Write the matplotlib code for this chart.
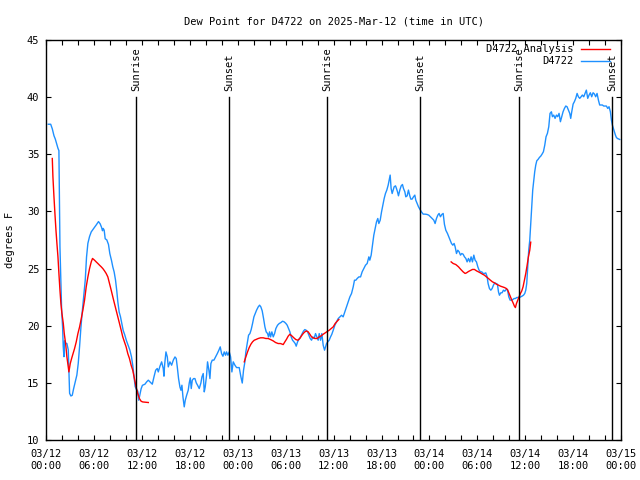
import matplotlib
matplotlib.use('Agg')
import matplotlib.pyplot as plt
from matplotlib.ticker import MultipleLocator

# ---------------- data ----------------
title = "Dew Point for D4722 on 2025-Mar-12 (time in UTC)"
ylabel = "degrees F"

blue_hours = [0.25, 0.55, 0.75, 0.96, 1.13, 1.30, 1.46, 1.58, 1.62, 1.71, 1.83, 1.92, 2.04, 2.12, 2.21, 2.29,
              2.46, 2.58, 2.75, 2.83, 2.92, 3.08, 3.25, 3.42, 3.63, 3.83, 4.0, 4.17, 4.33, 4.5, 4.71, 4.88,
              5.04, 5.21, 5.42, 5.63, 5.83, 6.04, 6.25, 6.54, 6.75, 6.92, 7.04, 7.13, 7.25, 7.38, 7.58, 7.79,
              7.96, 8.17, 8.33, 8.5, 8.67, 8.83, 8.96, 9.13, 9.29, 9.46, 9.63, 9.83, 10.04, 10.25, 10.46, 10.67,
              10.83, 11.0, 11.13, 11.29, 11.46, 11.58, 11.71, 11.88, 12.04, 12.36, 12.57, 12.78, 12.99, 13.28,
              13.49, 13.7, 13.9, 14.03, 14.24, 14.45, 14.65, 14.74, 14.82, 14.99, 15.16, 15.28, 15.49, 15.7,
              15.91, 16.12, 16.28, 16.41, 16.57, 16.74, 16.87, 16.99, 17.12, 17.28, 17.41, 17.58, 17.78, 17.91,
              18.04, 18.16, 18.29, 18.45, 18.62, 18.79, 18.95, 19.16, 19.37, 19.5, 19.66, 19.79, 19.91, 20.08,
              20.2, 20.37, 20.5, 20.62, 20.79, 21.0, 21.21, 21.42, 21.62, 21.79, 21.96, 22.13, 22.29, 22.46,
              22.58, 22.75, 22.92, 23.09, 23.25, 23.42, 23.63, 23.84, 24.17, 24.38, 24.55, 24.71, 24.88, 25.0,
              25.17, 25.34, 25.51, 25.67, 25.84, 26.01, 26.18, 26.34, 26.55, 26.72, 26.88, 27.05, 27.22, 27.39,
              27.55, 27.72, 27.84, 27.97, 28.1, 28.26, 28.43, 28.6, 28.76, 28.97, 29.18, 29.39, 29.6, 29.81,
              30.02, 30.18, 30.35, 30.52, 30.68, 30.85, 31.02, 31.18, 31.31, 31.48, 31.64, 31.85, 32.06, 32.23,
              32.39, 32.56, 32.73, 32.9, 33.06, 33.23, 33.39, 33.56, 33.73, 33.9, 34.06, 34.19, 34.36, 34.52,
              34.69, 34.86, 34.98, 35.11, 35.27, 35.44, 35.61, 35.77, 35.94, 36.15, 36.36, 36.57, 36.78, 36.99,
              37.19, 37.4, 37.61, 37.82, 38.03, 38.24, 38.45, 38.61, 38.78, 38.95, 39.16, 39.37, 39.57, 39.78,
              39.99, 40.2, 40.41, 40.53, 40.7, 40.87, 41.03, 41.2, 41.37, 41.53, 41.66, 41.83, 42.0, 42.16,
              42.33, 42.49, 42.66, 42.83, 42.95, 43.08, 43.2, 43.33, 43.46, 43.58, 43.75, 43.87, 44.0, 44.12,
              44.29, 44.46, 44.62, 44.75, 44.92, 45.04, 45.21, 45.37, 45.54, 45.67, 45.83, 46.0, 46.17, 46.29,
              46.46, 46.63, 46.79, 47.0, 47.21, 47.46, 47.71, 47.92, 48.13, 48.34, 48.55, 48.71, 48.88, 49.05,
              49.21, 49.38, 49.55, 49.72, 49.88, 50.05, 50.26, 50.43, 50.59, 50.76, 50.93, 51.09, 51.22, 51.39,
              51.55, 51.72, 51.89, 52.05, 52.22, 52.39, 52.56, 52.72, 52.89, 53.06, 53.22, 53.39, 53.56, 53.72,
              53.89, 54.06, 54.22, 54.39, 54.56, 54.73, 54.89, 55.06, 55.23, 55.35, 55.52, 55.69, 55.85, 56.02,
              56.19, 56.35, 56.52, 56.65, 56.77, 56.94, 57.1, 57.27, 57.44, 57.61, 57.77, 57.94, 58.11, 58.27,
              58.44, 58.61, 58.77, 58.94, 59.11, 59.28, 59.44, 59.61, 59.78, 59.94, 60.07, 60.19, 60.32, 60.44,
              60.57, 60.69, 60.82, 60.94, 61.07, 61.19, 61.32, 61.45, 61.61, 61.78, 61.95, 62.11, 62.28, 62.45,
              62.61, 62.78, 62.95, 63.11, 63.28, 63.41, 63.57, 63.74, 63.91, 64.07, 64.24, 64.41, 64.58, 64.74,
              64.91, 65.08, 65.24, 65.41, 65.58, 65.7, 65.83, 66.0, 66.16, 66.33, 66.5, 66.66, 66.83, 67.0,
              67.16, 67.33, 67.5, 67.66, 67.83, 68.0, 68.16, 68.33, 68.5, 68.67, 68.83, 69.0, 69.17, 69.33,
              69.5, 69.67, 69.83, 70.0, 70.17, 70.34, 70.5, 70.67, 70.8, 70.92, 71.04, 71.17, 71.3, 71.42,
              71.55, 71.84]
blue_dewpt = [37.6, 37.6, 37.2, 36.6, 36.3, 35.9, 35.5, 35.3, 32.6, 26.9, 23.7, 21.4, 19.9, 18.2, 17.3, 18.7,
              18.45, 18.45, 17.9, 16.1, 14.1, 13.87, 13.93, 14.5, 15.1, 15.7, 16.7, 18.2, 19.8, 21.2, 22.8, 24.0,
              26.0, 27.2, 27.8, 28.2, 28.4, 28.6, 28.8, 29.1, 28.9, 28.6, 28.3, 28.5, 28.35, 27.6, 27.5, 27.1,
              26.3, 25.7, 25.15, 24.7, 24.0, 23.05, 22.1, 21.2, 20.8, 20.2, 19.6, 19.2, 18.7, 18.3, 17.9, 17.3,
              16.55, 15.5, 14.7, 14.43, 14.3, 13.5, 13.93, 14.5, 14.8, 14.9, 15.1, 15.25, 15.1, 14.9,
              15.54, 16.12, 16.27, 15.97, 16.47, 16.85, 16.27, 15.6, 16.56, 17.72, 17.28, 16.41, 16.85, 16.56,
              17.0, 17.28, 17.14, 16.41, 15.39, 14.66, 14.37, 14.81, 13.79, 12.92, 13.5, 13.93, 14.37, 15.01,
              15.45, 14.52, 15.25, 15.39, 15.39, 15.01, 14.81, 14.52, 15.01, 15.54, 15.83, 14.23, 14.66, 15.68,
              16.85, 16.12, 15.39, 16.7, 17.0, 17.0, 17.28, 17.57, 17.87, 18.16, 17.57, 17.34, 17.72, 17.43,
              17.72, 17.43, 17.72, 17.28, 15.97, 16.85, 16.56, 16.35, 16.35, 15.54, 15.0, 16.12, 16.85, 17.72,
              18.45, 19.18, 19.32, 19.67, 20.2, 20.78, 21.07, 21.36, 21.65, 21.8, 21.65, 21.3, 20.63, 19.9,
              19.47, 19.32, 19.03, 19.47, 19.03, 19.47, 19.03, 19.32, 19.76, 20.05, 20.2, 20.28, 20.4, 20.34,
              20.2, 20.05, 19.76, 19.47, 19.03, 18.74, 18.6, 18.45, 18.22, 18.6, 18.8, 19.03, 19.32, 19.55,
              19.67, 19.61, 19.47, 19.18, 18.89, 18.74, 19.03, 18.89, 19.32, 19.03, 18.74, 19.32, 18.74, 19.32,
              18.3, 17.87, 18.16, 18.45, 18.6, 18.74, 19.03, 19.26, 19.6, 20.05, 20.34, 20.63, 20.78, 20.92,
              20.78, 21.21, 21.65, 22.09, 22.52, 22.82, 23.4, 23.98, 23.98, 24.13, 24.27, 24.27, 24.71, 25.0,
              25.29, 25.44, 26.02, 25.73, 26.17, 27.04, 27.91, 28.49, 29.08, 29.37, 28.93, 29.22, 29.95, 30.53,
              31.12, 31.55, 31.85, 32.28, 32.72, 33.16, 31.99, 31.55, 31.85, 32.14, 32.22, 31.99, 31.7, 31.35,
              31.85, 32.22, 32.34, 31.99, 31.7, 31.26, 31.35, 31.85, 31.35, 31.06, 31.06, 31.26, 31.41, 30.97,
              30.68, 30.39, 30.19, 29.95, 29.75, 29.75, 29.72, 29.66, 29.52, 29.37, 29.22, 28.93, 29.37, 29.66,
              29.81, 29.52, 29.72, 29.81, 28.86, 28.35, 28.06, 27.77, 27.48, 27.19, 27.04, 27.19, 26.9, 26.31,
              26.6, 26.46, 26.17, 26.31, 26.25, 26.02, 25.88, 25.58, 25.88, 25.58, 26.02, 25.58, 26.17, 25.73,
              25.58, 25.15, 24.86, 24.71, 24.71, 24.57, 24.57, 24.62, 24.27, 23.69, 23.25, 23.11, 23.25, 23.55,
              23.75, 23.69, 23.63, 22.96, 22.67, 22.88, 22.88, 23.11, 23.02, 23.17, 23.17, 22.53, 22.24, 22.24,
              22.29, 22.38, 22.38, 22.47, 22.47, 22.47, 22.53, 22.59, 22.67, 22.82, 23.11, 23.69, 25.15, 26.6,
              27.48, 28.93, 30.39, 31.85, 32.72, 33.45, 34.03, 34.41, 34.53, 34.7, 34.82, 34.99, 35.2, 35.78,
              36.51, 36.8, 37.38, 38.55, 38.69, 38.26, 38.4, 38.11, 38.4, 38.26, 38.55, 37.82, 38.26, 38.69,
              38.98, 39.19, 39.13, 38.84, 38.55, 38.11, 38.69, 39.36, 39.57, 39.86, 40.29, 40.0, 39.86, 40.0,
              40.15, 40.0, 40.29, 40.58, 39.86, 40.15, 40.35, 40.0, 40.35, 40.24, 40.0, 40.29, 39.71, 39.28,
              39.28, 39.28, 39.19, 39.19, 39.19, 38.98, 39.13, 38.69, 37.96, 37.53, 37.24, 36.95, 36.65, 36.45,
              36.36, 36.27]

red1_hours = [0.75, 0.83, 0.96, 1.08, 1.21, 1.33, 1.46, 1.58, 1.71, 1.83, 1.96, 2.13, 2.25, 2.42, 2.58, 2.75,
              2.83, 3.0, 3.17, 3.33, 3.54, 3.75, 3.96, 4.17, 4.38, 4.58, 4.79, 5.0, 5.21, 5.42, 5.63, 5.79,
              6.04, 6.25, 6.46, 6.67, 6.88, 7.08, 7.29, 7.5, 7.71, 7.92, 8.13, 8.33, 8.54, 8.75, 8.96, 9.17,
              9.38, 9.58, 9.79, 10.0, 10.21, 10.42, 10.63, 10.83, 11.04, 11.25, 11.46, 11.67, 11.88, 12.08, 12.78]
red1_dewpt = [34.61, 33.0, 31.26, 29.81, 28.35, 27.19, 26.02, 24.57, 23.11, 21.94, 21.07, 20.2, 19.32, 18.45,
              17.28, 16.41, 15.97, 16.7, 17.14, 17.52, 18.01, 18.59, 19.32, 19.9, 20.63, 21.36, 22.23, 23.4,
              24.27, 25.0, 25.58, 25.88, 25.73, 25.58, 25.44, 25.29, 25.15, 25.0, 24.8, 24.57, 24.27, 23.69,
              23.11, 22.53, 21.94, 21.36, 20.78, 20.2, 19.61, 19.03, 18.59, 18.16, 17.57, 17.14, 16.55, 16.12,
              15.39, 14.66, 14.08, 13.64, 13.41, 13.35, 13.3]

red2_hours = [24.8, 25.0, 25.21, 25.42, 25.63, 25.84, 26.05, 26.26, 26.55, 26.84, 27.17, 27.51, 27.8, 28.09,
              28.43, 28.72, 29.05, 29.34, 29.68, 29.89, 30.1, 30.3, 30.51, 30.76, 31.01, 31.26, 31.51, 31.76,
              31.97, 32.18, 32.39, 32.6, 32.81, 33.02, 33.23, 33.43, 33.68, 33.93, 34.19, 34.44, 34.69, 34.94,
              35.19, 35.44, 35.69, 35.94, 36.19, 36.44, 36.65]
red2_dewpt = [16.85, 17.28, 17.72, 18.1, 18.39, 18.6, 18.74, 18.8, 18.89, 18.95, 18.95, 18.89, 18.89, 18.8,
              18.68, 18.54, 18.45, 18.45, 18.36, 18.6, 18.83, 19.09, 19.26, 19.12, 18.95, 18.8, 18.74, 18.89,
              19.12, 19.32, 19.47, 19.55, 19.47, 19.26, 19.03, 18.95, 18.89, 18.89, 19.03, 19.12, 19.26, 19.38,
              19.5, 19.61, 19.76, 19.9, 20.2, 20.4, 20.55]

red3_hours = [50.72, 50.97, 51.3, 51.64, 51.93, 52.22, 52.47, 52.64, 52.89, 53.14, 53.39, 53.64, 53.89, 54.14,
              54.39, 54.64, 54.89, 55.14, 55.39, 55.64, 55.89, 56.14, 56.4, 56.65, 56.9, 57.15, 57.4, 57.65,
              57.81, 57.98, 58.15, 58.32, 58.48, 58.65, 58.77, 58.9, 59.07, 59.23, 59.4, 59.57, 59.73, 59.9,
              60.07, 60.24, 60.4, 60.57, 60.69]
red3_dewpt = [25.58, 25.44, 25.35, 25.15, 24.92, 24.71, 24.57, 24.62, 24.74, 24.83, 24.92, 24.92, 24.8, 24.71,
              24.62, 24.51, 24.42, 24.27, 24.13, 23.98, 23.84, 23.75, 23.63, 23.55, 23.46, 23.4, 23.34, 23.25,
              23.11, 22.82, 22.53, 22.24, 22.0, 21.71, 21.59, 21.94, 22.24, 22.53, 22.82, 23.05, 23.4, 23.98,
              24.57, 25.29, 26.02, 26.6, 27.3]

event_hours = [11.27, 22.93, 35.19, 46.84, 59.23, 70.87]
event_labels = ["Sunrise", "Sunset", "Sunrise", "Sunset", "Sunrise", "Sunset"]

tick_hours = [0, 6, 12, 18, 24, 30, 36, 42, 48, 54, 60, 66, 72]
tick_dates = ["03/12", "03/12", "03/12", "03/12", "03/13", "03/13", "03/13", "03/13",
              "03/14", "03/14", "03/14", "03/14", "03/15"]
tick_times = ["00:00", "06:00", "12:00", "18:00"] * 3 + ["00:00"]

# ---------------- drawing ----------------
plt.rcParams['font.family'] = ['DejaVu Sans Mono']
FS = 7.5

fig = plt.figure(figsize=(6.4, 4.8), dpi=100)
fig.patch.set_facecolor('white')
L, R, T, B = 46.3, 621.0, 39.5, 440.3
ax = fig.add_axes([L / 640, (480 - B) / 480, (R - L) / 640, (B - T) / 480])

blue_line, = ax.plot(blue_hours, blue_dewpt, color='#1E90FF', lw=1.0)
red_line, = ax.plot(red1_hours, red1_dewpt, color='red', lw=1.0)
ax.plot(red2_hours, red2_dewpt, color='red', lw=1.0)
ax.plot(red3_hours, red3_dewpt, color='red', lw=1.0)

for h, lab in zip(event_hours, event_labels):
    ax.plot([h, h], [10, 40], color='black', lw=1.0)
    ax.annotate(lab, xy=(h, 40), xytext=(0, 4), textcoords='offset points',
                rotation=90, ha='center', va='bottom', fontsize=FS)

ax.set_xlim(0, 72)
ax.set_ylim(10, 45)
ax.set_xticks(tick_hours)
ax.set_xticklabels([d + "\n" + t for d, t in zip(tick_dates, tick_times)], fontsize=FS)
for lbl in ax.get_xticklabels():
    lbl.set_linespacing(1.35)
ax.xaxis.set_minor_locator(MultipleLocator(2))
ax.set_yticks([10, 15, 20, 25, 30, 35, 40, 45])
ax.tick_params(axis='y', labelsize=FS, pad=5)
ax.tick_params(axis='x', pad=6)
ax.tick_params(which='both', direction='in', top=True, right=True, length=3.3, width=0.8)
for s in ax.spines.values():
    s.set_linewidth(1.0)

ax.set_title(title, fontsize=FS, pad=11)
ax.set_ylabel(ylabel, fontsize=FS)
ax.yaxis.set_label_coords(-0.054, 0.5)

ax.legend([red_line, blue_line], ["D4722 Analysis", "D4722"], loc='upper right',
          bbox_to_anchor=(0.981, 0.988), frameon=False, markerfirst=False,
          handlelength=2.8, handletextpad=0.7, borderaxespad=0, borderpad=0,
          labelspacing=0.2, fontsize=FS)

fig.savefig('out.png', dpi=100)
